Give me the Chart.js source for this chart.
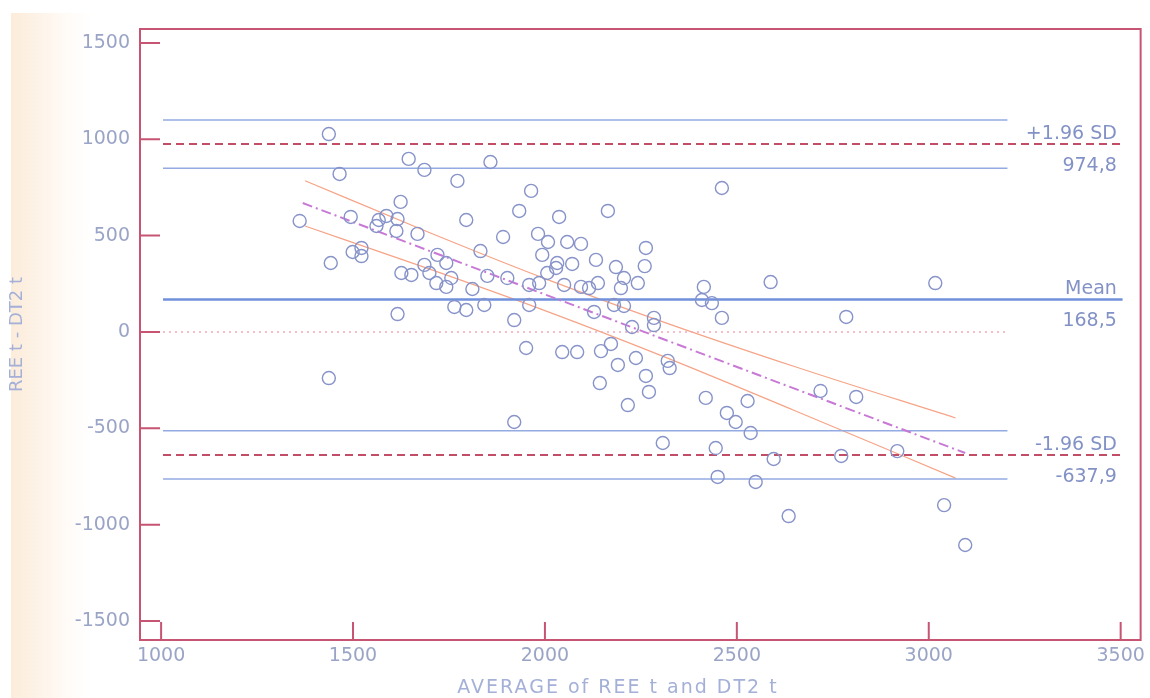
<!DOCTYPE html>
<html><head><meta charset="utf-8">
<script src="https://cdn.jsdelivr.net/npm/chart.js@4.4.1/dist/chart.umd.min.js"></script>
<style>
html,body{margin:0;padding:0;background:#fff;width:1150px;height:698px;overflow:hidden}
#bg{position:absolute;left:11px;top:13px;width:80px;height:685px;background:linear-gradient(to right,#fcecda 0%,#fdf3e8 35%,#fffaf5 65%,#ffffff 100%)}
#wrap{position:absolute;left:0;top:0;width:1150px;height:698px}
</style></head><body>
<div id="bg"></div>
<div id="wrap"><canvas id="c" width="1150" height="698"></canvas></div>
<script>
// ---- data ----
const avgValues = [1361,1437,1442,1437,1465,1494,1499,1522,1522,1616,1561,1567,1587,1616,1613,1624,1626,1645,1652,1668,
1686,1686,1699,1717,1720,1743,1743,1756,1772,1795,1858,1832,1850,1811,1764,1795,1842,1891,1902,1920,
1933,1959,1959,1964,1982,1985,1993,2006,2008,2029,2037,2032,2050,2058,2071,2094,2094,2115,2128,2133,
2138,2164,2180,2185,2198,2206,2206,2227,2242,2260,2263,2284,2284,2409,2414,2435,2461,2461,2588,2785,
3017,1951,1920,2045,2084,2146,2172,2237,2190,2320,2325,2263,2143,2271,2216,2419,2528,2474,2497,2536,
2307,2445,2596,2450,2549,2635,2718,2811,2772,2918,3040,3095];
const diffValues = [576,1027,358,-239,820,597,415,436,394,93,550,581,602,586,524,675,306,898,296,509,
841,348,306,254,400,358,234,280,784,581,882,420,291,223,130,114,140,493,280,62,
628,244,140,732,509,254,400,306,467,332,597,358,244,467,353,457,234,228,104,374,
254,628,140,337,228,280,135,26,254,342,436,73,36,166,234,150,747,73,259,78,
254,-83,-467,-104,-104,-99,-62,-135,-171,-150,-187,-228,-265,-311,-379,-342,-358,-420,-467,-524,
-576,-602,-659,-752,-778,-955,-306,-337,-643,-618,-898,-1105];

const meanDiff = 168.5;
const upperLimit = 974.8;
const lowerLimit = -637.9;
const upperLimitCI = [1100, 850];
const lowerLimitCI = [-513, -763];
const lineStartX = 1005;
const shortLineEndX = 3205;
const longLineEndX = 3505;

const regX = [1369, 3095];
const regY = [669, -628];
const bandX = [1375, 1700, 2000, 2300, 2650, 3070];
const bandUpperY = [785, 515, 277, 58, -179, -446];
const bandLowerY = [550, 326, 111, -120, -407, -758];

const xTickValues = [1000, 1500, 2000, 2500, 3000, 3500];
const yTickValues = [-1500, -1000, -500, 0, 500, 1000, 1500];
const rightLabels = [
  {value: upperLimit, above: '+1.96 SD', below: '974,8'},
  {value: meanDiff, above: 'Mean', below: '168,5'},
  {value: lowerLimit, above: '-1.96 SD', below: '-637,9'}
];
const xTitle = 'AVERAGE of REE t and DT2 t';
const yTitle = 'REE t - DT2 t';

// ---- build datasets ----
const pts = avgValues.map((x, i) => ({x, y: diffValues[i]}));
function hline(y, x2){ return [{x: lineStartX, y}, {x: x2, y}]; }
const lineDs = (data, color, width, dash, extra) => Object.assign({
  data, showLine: true, borderColor: color, borderWidth: width, borderDash: dash || [],
  pointRadius: 0, pointHoverRadius: 0, fill: false, order: 2
}, extra || {});

const FONT = "'DejaVu Sans', sans-serif";
const frameColor = '#c65472';

const framePlugin = {
  id: 'frame',
  afterDraw(chart) {
    const {ctx, chartArea: a, scales: {x, y}} = chart;
    ctx.save();
    ctx.strokeStyle = frameColor;
    ctx.lineWidth = 2;
    ctx.strokeRect(a.left, a.top, a.right - a.left, a.bottom - a.top);
    ctx.beginPath();
    yTickValues.forEach(v => { const py = y.getPixelForValue(v); ctx.moveTo(a.left, py); ctx.lineTo(a.left + 20, py); });
    xTickValues.forEach(v => { const px = x.getPixelForValue(v); ctx.moveTo(px, a.bottom); ctx.lineTo(px, a.bottom - 18); });
    ctx.stroke();
    // right-hand labels
    ctx.fillStyle = '#8392c6';
    ctx.font = "19px " + FONT;
    ctx.textAlign = 'right';
    ctx.textBaseline = 'middle';
    const rx = x.getPixelForValue(3490);
    rightLabels.forEach(l => {
      const py = y.getPixelForValue(l.value);
      ctx.fillText(l.above, rx, py - 10);
      ctx.fillText(l.below, rx, py + 22);
    });
    // x axis title
    ctx.fillStyle = '#a4b0d8';
    ctx.font = "19px " + FONT;
    ctx.textAlign = 'center';
    try { ctx.letterSpacing = '2px'; } catch(e) {}
    ctx.fillText(xTitle, 618, 688);
    ctx.restore();
  }
};

new Chart(document.getElementById('c'), {
  type: 'scatter',
  data: {
    datasets: [
      {data: pts, pointStyle: 'circle', pointRadius: 6.5, pointBorderColor: '#8793c9', pointBackgroundColor: 'rgba(0,0,0,0)', pointBorderWidth: 1.4, showLine: false, order: 0},
      lineDs(hline(upperLimitCI[0], shortLineEndX), '#93aae2', 1.5),
      lineDs(hline(upperLimit, longLineEndX), '#c24d66', 2, [8, 5]),
      lineDs(hline(upperLimitCI[1], shortLineEndX), '#93aae2', 1.5),
      lineDs(hline(meanDiff, longLineEndX), '#7090dc', 2.5),
      lineDs(hline(0, shortLineEndX), '#f2a8b6', 1.5, [2, 4]),
      lineDs(hline(lowerLimitCI[0], shortLineEndX), '#93aae2', 1.5),
      lineDs(hline(lowerLimit, longLineEndX), '#c24d66', 2, [8, 5]),
      lineDs(hline(lowerLimitCI[1], shortLineEndX), '#93aae2', 1.5),
      lineDs(regX.map((x, i) => ({x, y: regY[i]})), '#c879d6', 2, [10, 4, 2, 4], {order: 1}),
      lineDs(bandX.map((x, i) => ({x, y: bandUpperY[i]})), '#f6a487', 1.2, [], {tension: 0.4, cubicInterpolationMode: 'monotone'}),
      lineDs(bandX.map((x, i) => ({x, y: bandLowerY[i]})), '#f6a487', 1.2, [], {tension: 0.4, cubicInterpolationMode: 'monotone'})
    ]
  },
  options: {
    responsive: false,
    animation: false,
    events: [],
    layout: {padding: {left: 0, top: 29, right: 7, bottom: 0}},
    plugins: {legend: {display: false}, tooltip: {enabled: false}},
    scales: {
      x: {
        type: 'linear', min: 945, max: 3552,
        afterBuildTicks: s => { s.ticks = xTickValues.map(v => ({value: v})); },
        afterFit: s => { s.height = 58; },
        grid: {display: false, drawTicks: false},
        border: {display: false},
        ticks: {color: '#9aa4c6', font: {family: FONT, size: 19}, padding: 5, maxRotation: 0, autoSkip: false, callback: v => String(v)}
      },
      y: {
        type: 'linear', min: -1598, max: 1572,
        afterBuildTicks: s => { s.ticks = yTickValues.map(v => ({value: v})); },
        afterFit: s => { s.width = 140; },
        grid: {display: false, drawTicks: false},
        border: {display: false},
        ticks: {color: '#9aa4c6', font: {family: FONT, size: 19}, padding: 10, autoSkip: false, callback: v => String(v)},
        title: {display: true, text: yTitle, color: '#a4b0d8', font: {family: FONT, size: 18}, padding: {top: 7, bottom: 0}}
      }
    }
  },
  plugins: [framePlugin]
});
</script>
</body></html>
